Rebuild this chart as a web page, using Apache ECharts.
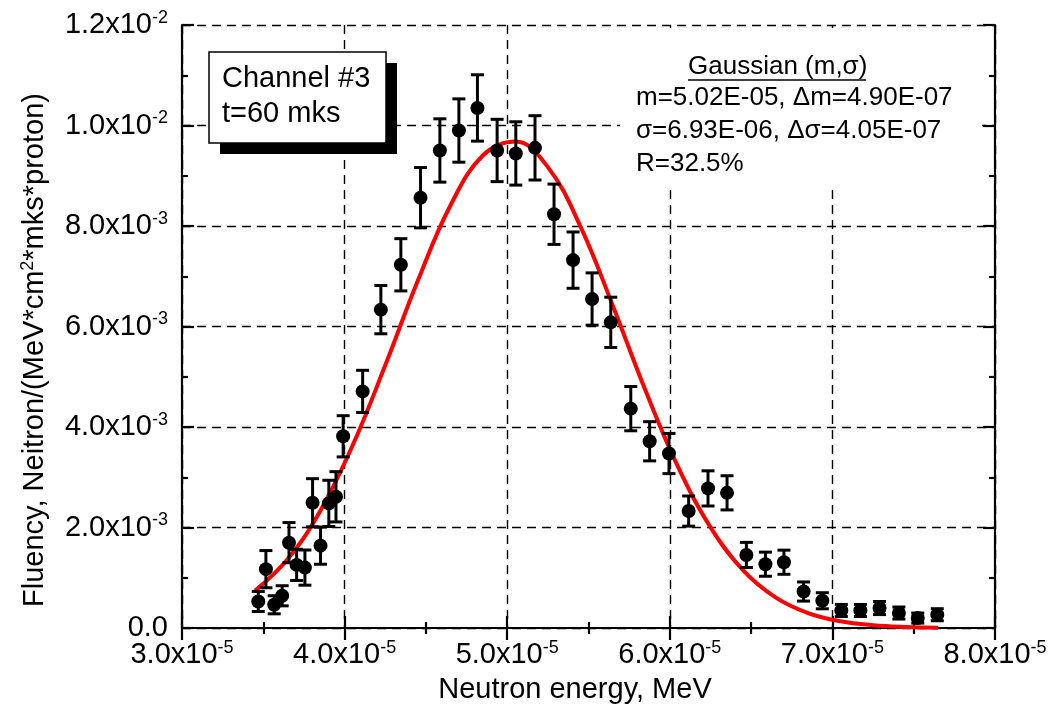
<!DOCTYPE html>
<html>
<head>
<meta charset="utf-8">
<script src="https://cdn.jsdelivr.net/npm/echarts@6/dist/echarts.min.js"></script>
<style>
  html, body { margin: 0; padding: 0; background: #fff; }
  #chart { width: 1051px; height: 710px; }
</style>
</head>
<body>
<div id="chart"></div>
<script>
// Measured neutron spectrum, channel #3, t = 60 mks
const energy = [
  3.469e-5, 3.516e-5, 3.567e-5, 3.616e-5, 3.658e-5, 3.705e-5, 3.756e-5, 3.803e-5,
  3.852e-5, 3.903e-5, 3.947e-5, 3.991e-5, 4.111e-5, 4.223e-5, 4.346e-5, 4.467e-5,
  4.586e-5, 4.703e-5, 4.817e-5, 4.938e-5, 5.053e-5, 5.171e-5, 5.288e-5, 5.405e-5,
  5.522e-5, 5.637e-5, 5.760e-5, 5.876e-5, 5.995e-5, 6.116e-5, 6.235e-5, 6.352e-5,
  6.471e-5, 6.588e-5, 6.702e-5, 6.823e-5, 6.938e-5, 7.055e-5, 7.172e-5, 7.290e-5,
  7.409e-5, 7.525e-5, 7.645e-5
];
const fluency = [
  5.28e-4, 1.171e-3, 4.62e-4, 6.41e-4, 1.698e-3, 1.256e-3, 1.202e-3, 2.492e-3,
  1.639e-3, 2.480e-3, 2.611e-3, 3.815e-3, 4.708e-3, 6.335e-3, 7.228e-3, 8.563e-3,
  9.503e-3, 9.900e-3, 1.0349e-2, 9.503e-3, 9.444e-3, 9.555e-3, 8.234e-3, 7.321e-3,
  6.547e-3, 6.083e-3, 4.365e-3, 3.716e-3, 3.472e-3, 2.327e-3, 2.778e-3, 2.690e-3,
  1.454e-3, 1.270e-3, 1.309e-3, 7.26e-4, 5.42e-4, 3.49e-4, 3.49e-4, 3.97e-4,
  2.98e-4, 1.98e-4, 2.64e-4
];
const fluencyErr = [
  2.0e-4, 3.7e-4, 1.8e-4, 2.0e-4, 4.0e-4, 3.1e-4, 3.5e-4, 4.8e-4,
  3.7e-4, 4.6e-4, 5.0e-4, 4.1e-4, 4.2e-4, 4.8e-4, 5.2e-4, 6.0e-4,
  6.3e-4, 6.3e-4, 6.6e-4, 6.2e-4, 6.3e-4, 6.4e-4, 6.0e-4, 5.6e-4,
  5.2e-4, 5.0e-4, 4.4e-4, 3.9e-4, 4.0e-4, 3.0e-4, 3.5e-4, 3.4e-4,
  2.5e-4, 2.4e-4, 2.4e-4, 1.9e-4, 1.6e-4, 1.2e-4, 1.2e-4, 1.3e-4,
  1.2e-4, 1.0e-4, 1.2e-4
];

// Gaussian fit curve, sampled along the energy range
const fitEnergy = [
  3.45e-5, 3.65e-5, 3.85e-5, 4.05e-5, 4.25e-5, 4.45e-5, 4.65e-5, 4.85e-5,
  5.05e-5, 5.25e-5, 5.45e-5, 5.65e-5, 5.85e-5, 6.05e-5, 6.25e-5, 6.45e-5,
  6.65e-5, 6.85e-5, 7.05e-5, 7.25e-5, 7.45e-5, 7.65e-5
];
const fitFluency = [
  7.44e-4, 1.373e-3, 2.330e-3, 3.638e-3, 5.227e-3, 6.909e-3, 8.403e-3, 9.403e-3,
  9.681e-3, 9.171e-3, 7.993e-3, 6.410e-3, 4.730e-3, 3.211e-3, 2.006e-3, 1.153e-3,
  6.10e-4, 2.97e-4, 1.33e-4, 5.5e-5, 2.1e-5, 7e-6
];

// Tick labels
const xTickMantissa = ['3.0', '4.0', '5.0', '6.0', '7.0', '8.0'];
const xTickExponent = ['-5', '-5', '-5', '-5', '-5', '-5'];
const yTickMantissa = ['0.0', '2.0', '4.0', '6.0', '8.0', '1.0', '1.2'];
const yTickExponent = ['', '-3', '-3', '-3', '-3', '-2', '-2'];

// Fit annotation
const fitTitle = 'Gaussian (m,\u03c3)';
const fitLines = [
  'm=5.02E-05, \u0394m=4.90E-07',
  '\u03c3=6.93E-06, \u0394\u03c3=4.05E-07',
  'R=32.5%'
];
const channelLines = ['Channel #3', 't=60 mks'];

const FONT = '"Liberation Sans", Arial, Helvetica, sans-serif';
const X_MIN = 3e-5, X_MAX = 8e-5, X_STEP = 1e-5;
const Y_MIN = 0, Y_MAX = 0.012, Y_STEP = 0.002;

const tickRich = {
  m: { fontFamily: FONT, fontSize: 29, color: '#000', lineHeight: 32 },
  e: { fontFamily: FONT, fontSize: 18, color: '#000', verticalAlign: 'top', lineHeight: 14 }
};
function tickText(mant, exp) {
  return exp ? '{m|' + mant + 'x10}{e|' + exp + '}' : '{m|' + mant + '}';
}

const points = energy.map((e, i) => [e, fluency[i]]);
const bars = energy.map((e, i) => [e, fluency[i] - fluencyErr[i], fluency[i] + fluencyErr[i]]);
const fitCurve = fitEnergy.map((e, i) => [e, fitFluency[i]]);

const axisLineStyle = { color: '#000', width: 2.2 };
const dashed = { color: '#000', width: 1.4, type: [9, 6] };

const chart = echarts.init(document.getElementById('chart'), null, { renderer: 'canvas' });

chart.setOption({
  backgroundColor: '#fff',
  animation: false,
  grid: { left: 182, right: 56, top: 25, bottom: 82 },
  xAxis: [
    {
      type: 'value', min: X_MIN, max: X_MAX, interval: X_STEP,
      axisLine: { show: true, lineStyle: axisLineStyle },
      axisTick: { show: true, inside: true, length: 12, lineStyle: axisLineStyle },
      minorTick: { show: true, splitNumber: 2, length: 6, lineStyle: axisLineStyle },
      splitLine: { show: true, lineStyle: dashed },
      axisLabel: {
        margin: 11,
        formatter: v => {
          const i = Math.round((v - X_MIN) / X_STEP);
          return tickText(xTickMantissa[i], xTickExponent[i]);
        },
        rich: tickRich
      }
    },
    {
      type: 'value', position: 'top', min: X_MIN, max: X_MAX, interval: X_STEP,
      axisLine: { show: true, lineStyle: axisLineStyle },
      axisTick: { show: true, inside: true, length: 12, lineStyle: axisLineStyle },
      minorTick: { show: true, splitNumber: 2, length: 6, lineStyle: axisLineStyle },
      splitLine: { show: false },
      axisLabel: { show: false }
    }
  ],
  yAxis: [
    {
      type: 'value', min: Y_MIN, max: Y_MAX, interval: Y_STEP,
      axisLine: { show: true, lineStyle: axisLineStyle },
      axisTick: { show: true, inside: true, length: 12, lineStyle: axisLineStyle },
      minorTick: { show: true, splitNumber: 2, length: 6, lineStyle: axisLineStyle },
      splitLine: { show: true, lineStyle: dashed },
      axisLabel: {
        margin: 14,
        formatter: v => {
          const i = Math.round((v - Y_MIN) / Y_STEP);
          return tickText(yTickMantissa[i], yTickExponent[i]);
        },
        rich: tickRich
      }
    },
    {
      type: 'value', position: 'right', min: Y_MIN, max: Y_MAX, interval: Y_STEP,
      axisLine: { show: true, lineStyle: axisLineStyle },
      axisTick: { show: true, inside: true, length: 12, lineStyle: axisLineStyle },
      minorTick: { show: true, splitNumber: 2, length: 6, lineStyle: axisLineStyle },
      splitLine: { show: false },
      axisLabel: { show: false }
    }
  ],
  series: [
    {
      name: 'Gaussian fit',
      type: 'line',
      data: fitCurve,
      smooth: 0.4,
      symbol: 'none',
      lineStyle: { color: '#ff0000', width: 4 },
      z: 2
    },
    {
      name: 'Error',
      type: 'custom',
      data: bars,
      renderItem: (params, api) => {
        const x = api.value(0);
        const lo = api.coord([x, api.value(1)]);
        const hi = api.coord([x, api.value(2)]);
        const hw = 6.5;
        const st = { stroke: '#000', lineWidth: 3 };
        return {
          type: 'group',
          children: [
            { type: 'line', shape: { x1: lo[0], y1: lo[1], x2: hi[0], y2: hi[1] }, style: st },
            { type: 'line', shape: { x1: lo[0] - hw, y1: lo[1], x2: lo[0] + hw, y2: lo[1] }, style: st },
            { type: 'line', shape: { x1: hi[0] - hw, y1: hi[1], x2: hi[0] + hw, y2: hi[1] }, style: st }
          ]
        };
      },
      z: 3
    },
    {
      name: 'Fluency',
      type: 'scatter',
      data: points,
      symbol: 'circle',
      symbolSize: 14,
      itemStyle: { color: '#000', opacity: 1 },
      z: 4
    }
  ],
  graphic: [
    // area behind the fit parameters
    { type: 'rect', shape: { x: 620, y: 28, width: 362, height: 158 }, style: { fill: '#fff' }, z: 50 },
    {
      type: 'text', x: 688, y: 67, z: 51,
      style: { text: fitTitle, font: '26px ' + FONT, fill: '#000', textAlign: 'left', textVerticalAlign: 'middle' }
    },
    { type: 'line', shape: { x1: 688, y1: 80, x2: 866, y2: 80 }, style: { stroke: '#000', lineWidth: 1.5 }, z: 51 },
    {
      type: 'text', x: 636, y: 98, z: 51,
      style: { text: fitLines[0], font: '26px ' + FONT, fill: '#000', textAlign: 'left', textVerticalAlign: 'middle' }
    },
    {
      type: 'text', x: 636, y: 131, z: 51,
      style: { text: fitLines[1], font: '26px ' + FONT, fill: '#000', textAlign: 'left', textVerticalAlign: 'middle' }
    },
    {
      type: 'text', x: 636, y: 164, z: 51,
      style: { text: fitLines[2], font: '26px ' + FONT, fill: '#000', textAlign: 'left', textVerticalAlign: 'middle' }
    },
    // channel label with drop shadow
    { type: 'rect', shape: { x: 220, y: 63, width: 177, height: 91 }, style: { fill: '#000' }, z: 50 },
    { type: 'rect', shape: { x: 209, y: 52, width: 177, height: 91 }, style: { fill: '#fff', stroke: '#000', lineWidth: 1.5 }, z: 51 },
    {
      type: 'text', x: 222, y: 79, z: 52,
      style: { text: channelLines[0], font: '29px ' + FONT, fill: '#000', textAlign: 'left', textVerticalAlign: 'middle' }
    },
    {
      type: 'text', x: 222, y: 114, z: 52,
      style: { text: channelLines[1], font: '29px ' + FONT, fill: '#000', textAlign: 'left', textVerticalAlign: 'middle' }
    },
    // axis titles
    {
      type: 'text', x: 575, y: 690, z: 52,
      style: { text: 'Neutron energy, MeV', font: '29px ' + FONT, fill: '#000', textAlign: 'center', textVerticalAlign: 'middle' }
    },
    {
      type: 'text', x: 35, y: 350, rotation: Math.PI / 2, z: 52,
      style: {
        text: '{t|Fluency, Neitron/(MeV*cm}{s|2}{t|*mks*proton)}',
        align: 'center', verticalAlign: 'middle',
        rich: {
          t: { fontFamily: FONT, fontSize: 29, color: '#000', lineHeight: 32 },
          s: { fontFamily: FONT, fontSize: 18, color: '#000', verticalAlign: 'top', lineHeight: 17 }
        }
      }
    }
  ]
});
</script>
</body>
</html>
